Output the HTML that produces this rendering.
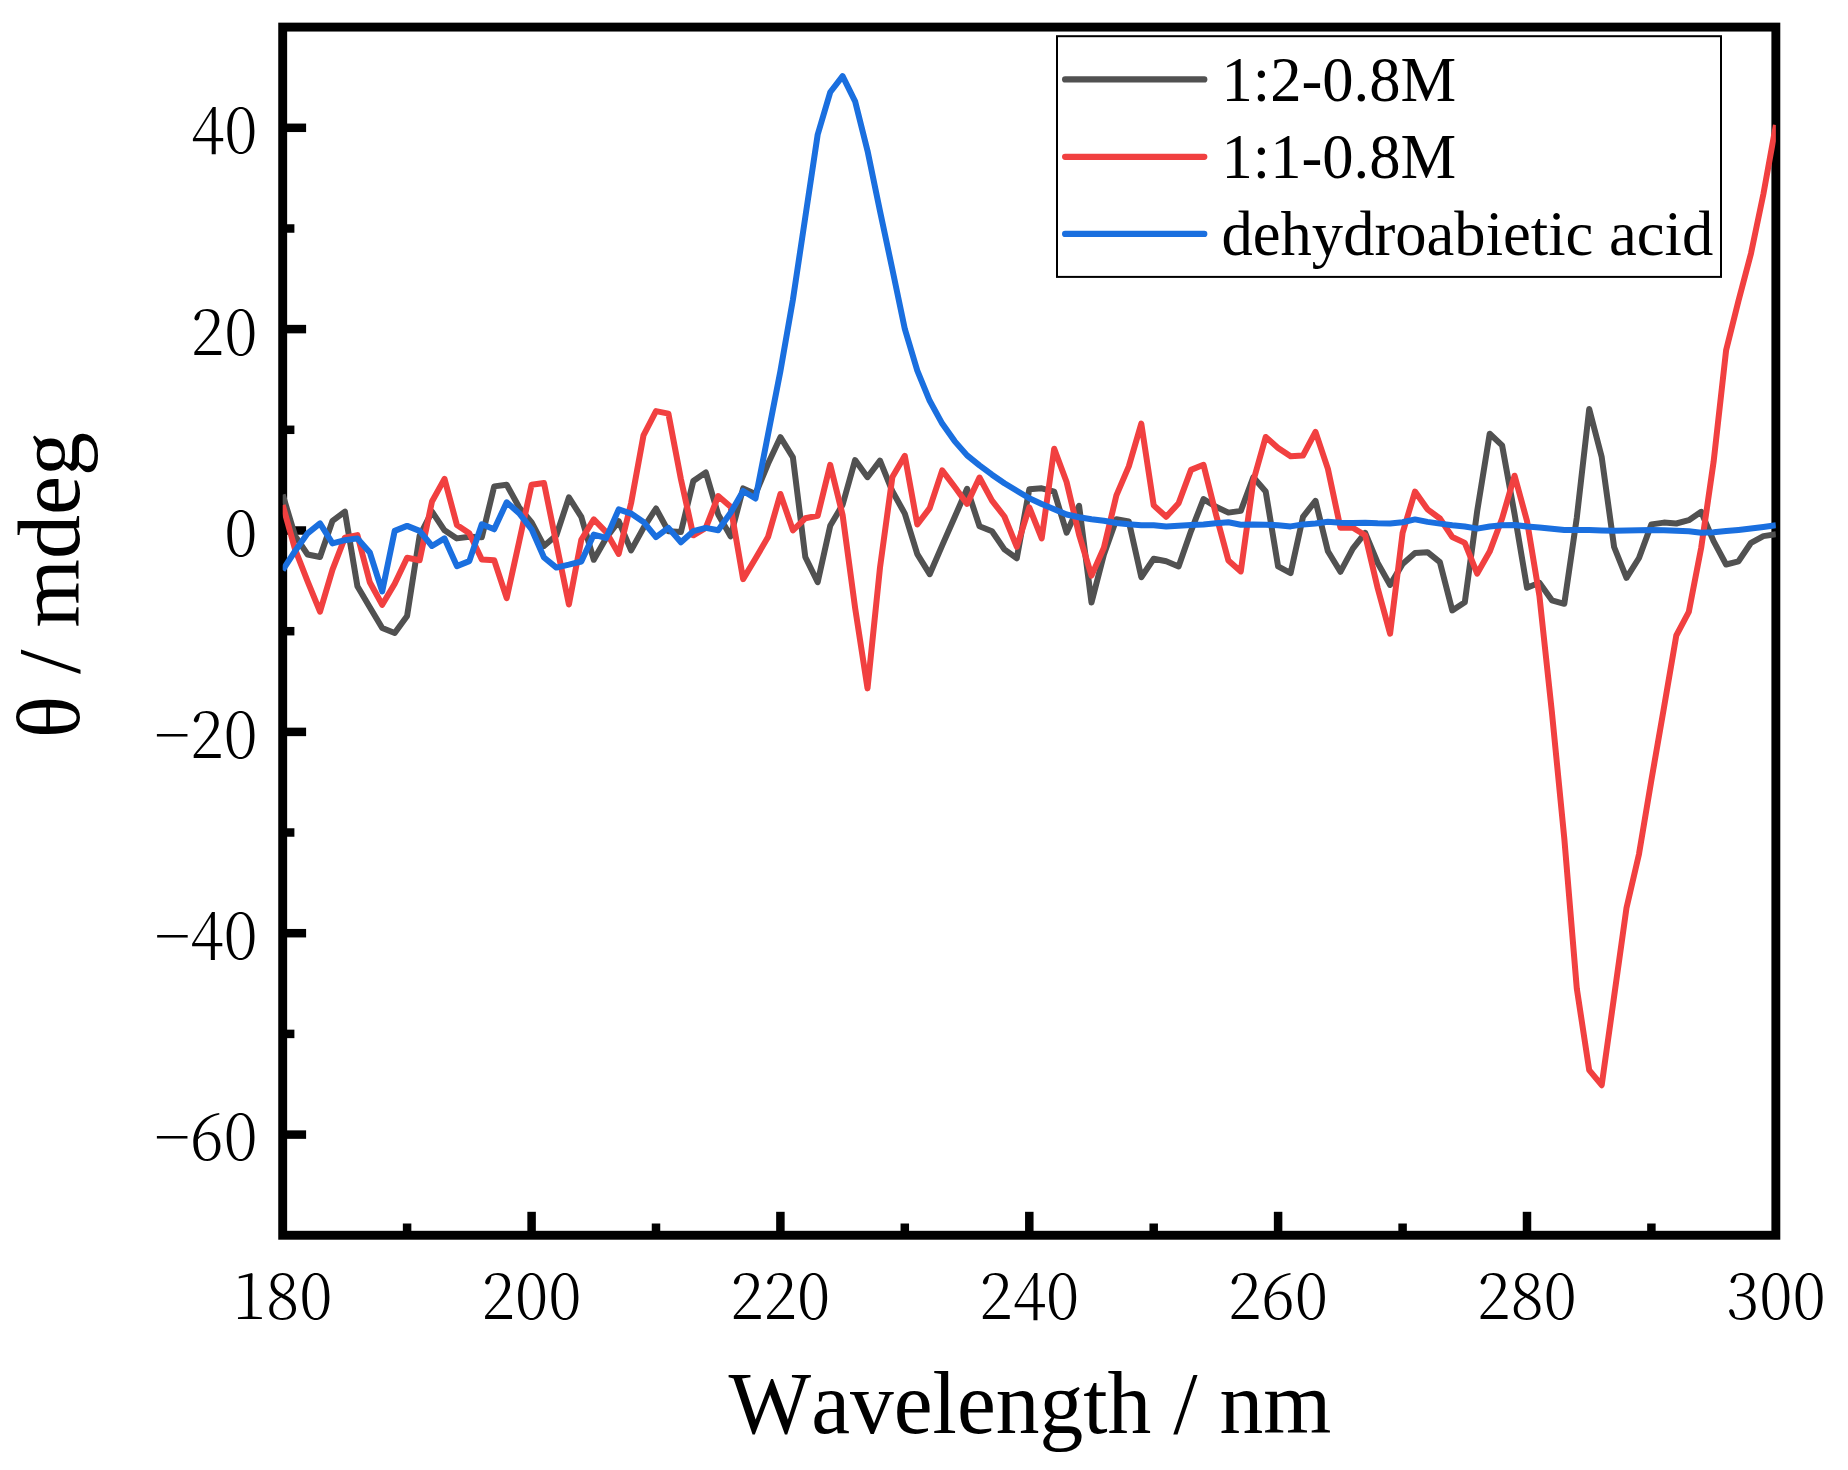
<!DOCTYPE html>
<html lang="en"><head><meta charset="utf-8"><title>CD spectra</title>
<style>
html,body{margin:0;padding:0;background:#fff;}
body{width:1848px;height:1470px;overflow:hidden;}
svg{display:block;}
text{font-kerning:none;}
.tk{font-family:"Noto Serif CJK SC","Liberation Serif",serif;font-weight:300;font-size:64px;fill:#000;}
.lg{font-family:"Liberation Serif",serif;font-size:63.8px;fill:#000;}
.xt{font-family:"Liberation Serif",serif;font-size:88.5px;fill:#000;}
.yt{font-family:"Liberation Serif",serif;font-weight:normal;font-size:88.5px;fill:#000;}
</style></head><body>
<svg width="1848" height="1470" viewBox="0 0 1848 1470">
<rect x="0" y="0" width="1848" height="1470" fill="#ffffff"/>
<defs><clipPath id="plot"><rect x="282.70" y="27.10" width="1493.15" height="1208.15"/></clipPath></defs>

<rect x="282.70" y="27.10" width="1493.15" height="1208.15" fill="none" stroke="#000" stroke-width="8.9"/>
<g stroke="#000" stroke-width="8.5" fill="none"><line x1="407.1" y1="1235.2" x2="407.1" y2="1223.5"/><line x1="531.6" y1="1235.2" x2="531.6" y2="1211.8"/><line x1="656.0" y1="1235.2" x2="656.0" y2="1223.5"/><line x1="780.4" y1="1235.2" x2="780.4" y2="1211.8"/><line x1="904.8" y1="1235.2" x2="904.8" y2="1223.5"/><line x1="1029.3" y1="1235.2" x2="1029.3" y2="1211.8"/><line x1="1153.7" y1="1235.2" x2="1153.7" y2="1223.5"/><line x1="1278.1" y1="1235.2" x2="1278.1" y2="1211.8"/><line x1="1402.6" y1="1235.2" x2="1402.6" y2="1223.5"/><line x1="1527.0" y1="1235.2" x2="1527.0" y2="1211.8"/><line x1="1651.4" y1="1235.2" x2="1651.4" y2="1223.5"/><line x1="282.7" y1="1134.6" x2="306.1" y2="1134.6"/><line x1="282.7" y1="1033.9" x2="294.4" y2="1033.9"/><line x1="282.7" y1="933.2" x2="306.1" y2="933.2"/><line x1="282.7" y1="832.5" x2="294.4" y2="832.5"/><line x1="282.7" y1="731.9" x2="306.1" y2="731.9"/><line x1="282.7" y1="631.2" x2="294.4" y2="631.2"/><line x1="282.7" y1="530.5" x2="306.1" y2="530.5"/><line x1="282.7" y1="429.8" x2="294.4" y2="429.8"/><line x1="282.7" y1="329.1" x2="306.1" y2="329.1"/><line x1="282.7" y1="228.5" x2="294.4" y2="228.5"/><line x1="282.7" y1="127.8" x2="306.1" y2="127.8"/></g>
<text class="tk" transform="translate(282.7 1319.2) scale(0.960 1)" text-anchor="middle">180</text>
<text class="tk" transform="translate(531.6 1319.2) scale(0.960 1)" text-anchor="middle">200</text>
<text class="tk" transform="translate(780.4 1319.2) scale(0.960 1)" text-anchor="middle">220</text>
<text class="tk" transform="translate(1029.3 1319.2) scale(0.960 1)" text-anchor="middle">240</text>
<text class="tk" transform="translate(1278.1 1319.2) scale(0.960 1)" text-anchor="middle">260</text>
<text class="tk" transform="translate(1527.0 1319.2) scale(0.960 1)" text-anchor="middle">280</text>
<text class="tk" transform="translate(1775.8 1319.2) scale(0.960 1)" text-anchor="middle">300</text>
<text class="tk" transform="translate(257.4 1160.2) scale(0.960 1)" text-anchor="end">−60</text>
<text class="tk" transform="translate(257.4 958.8) scale(0.960 1)" text-anchor="end">−40</text>
<text class="tk" transform="translate(257.4 757.5) scale(0.960 1)" text-anchor="end">−20</text>
<text class="tk" transform="translate(257.4 556.1) scale(0.960 1)" text-anchor="end">0</text>
<text class="tk" transform="translate(257.4 354.7) scale(0.960 1)" text-anchor="end">20</text>
<text class="tk" transform="translate(257.4 153.4) scale(0.960 1)" text-anchor="end">40</text>
<g clip-path="url(#plot)" fill="none" stroke-width="6" stroke-linejoin="round" stroke-linecap="butt">
<path stroke="#515151" d="M282.7 494.6 L295.1 535.9 L307.6 554.5 L320.0 557.0 L332.5 520.8 L344.9 511.6 L357.4 586.3 L369.8 607.3 L382.2 628.0 L394.7 633.0 L407.1 615.9 L419.6 535.9 L432.0 511.6 L444.5 530.3 L456.9 538.4 L469.3 536.7 L481.8 537.3 L494.2 486.4 L506.7 484.7 L519.1 507.3 L531.6 522.4 L544.0 546.0 L556.4 535.3 L568.9 497.4 L581.3 516.9 L593.8 559.8 L606.2 538.0 L618.7 521.1 L631.1 550.4 L643.5 527.9 L656.0 508.5 L668.4 531.2 L680.9 532.1 L693.3 481.0 L705.8 472.4 L718.2 514.4 L730.6 536.3 L743.1 488.4 L755.5 494.0 L768.0 463.8 L780.4 437.2 L792.9 457.3 L805.3 557.0 L817.7 582.2 L830.2 525.8 L842.6 504.8 L855.1 460.1 L867.5 477.2 L880.0 460.6 L892.4 491.3 L904.8 513.6 L917.3 554.1 L929.7 574.2 L942.2 545.4 L954.6 517.2 L967.1 488.8 L979.5 526.2 L992.0 531.2 L1004.4 549.4 L1016.8 558.3 L1029.3 489.2 L1041.7 488.3 L1054.2 491.7 L1066.6 532.7 L1079.1 505.8 L1091.5 602.5 L1103.9 554.5 L1116.4 519.3 L1128.8 521.4 L1141.3 577.2 L1153.7 558.8 L1166.2 561.3 L1178.6 566.4 L1191.0 531.1 L1203.5 499.1 L1215.9 506.7 L1228.4 512.6 L1240.8 510.9 L1253.3 477.3 L1265.7 491.5 L1278.1 566.4 L1290.6 573.1 L1303.0 516.8 L1315.5 500.8 L1327.9 551.2 L1340.4 571.8 L1352.8 548.7 L1365.2 532.8 L1377.7 563.0 L1390.1 584.9 L1402.6 563.9 L1415.0 553.0 L1427.5 552.2 L1439.9 562.2 L1452.3 610.4 L1464.8 602.3 L1477.2 511.0 L1489.7 433.7 L1502.1 445.4 L1514.6 514.2 L1527.0 587.7 L1539.4 582.7 L1551.9 600.3 L1564.3 603.8 L1576.8 517.7 L1589.2 409.0 L1601.7 457.1 L1614.1 547.0 L1626.5 577.8 L1639.0 558.0 L1651.4 524.4 L1663.9 522.6 L1676.3 523.5 L1688.8 520.2 L1701.2 511.8 L1713.6 541.2 L1726.1 564.5 L1738.5 561.3 L1751.0 542.8 L1763.4 536.1 L1775.9 534.3"/>
<path stroke="#F14040" d="M282.7 505.1 L295.1 549.4 L307.6 581.3 L320.0 611.6 L332.5 569.6 L344.9 537.7 L357.4 535.1 L369.8 582.2 L382.2 604.8 L394.7 583.7 L407.1 557.8 L419.6 560.3 L432.0 501.5 L444.5 478.9 L456.9 525.0 L469.3 533.3 L481.8 559.5 L494.2 560.3 L506.7 598.1 L519.1 541.8 L531.6 484.7 L544.0 483.0 L556.4 543.9 L568.9 604.5 L581.3 539.7 L593.8 519.4 L606.2 532.1 L618.7 553.9 L631.1 503.1 L643.5 435.4 L656.0 411.1 L668.4 413.6 L680.9 479.1 L693.3 535.3 L705.8 527.9 L718.2 496.1 L730.6 506.8 L743.1 579.1 L755.5 558.5 L768.0 537.1 L780.4 494.0 L792.9 530.3 L805.3 518.3 L817.7 515.8 L830.2 464.8 L842.6 515.0 L855.1 607.8 L867.5 688.4 L880.0 567.6 L892.4 476.9 L904.8 455.8 L917.3 524.5 L929.7 508.1 L942.2 470.4 L954.6 486.8 L967.1 503.9 L979.5 477.5 L992.0 500.6 L1004.4 516.5 L1016.8 546.8 L1029.3 507.3 L1041.7 538.4 L1054.2 448.7 L1066.6 482.0 L1079.1 534.8 L1091.5 575.6 L1103.9 547.8 L1116.4 495.4 L1128.8 466.4 L1141.3 423.6 L1153.7 505.4 L1166.2 516.8 L1178.6 503.3 L1191.0 469.9 L1203.5 464.8 L1215.9 514.2 L1228.4 560.5 L1240.8 571.4 L1253.3 481.0 L1265.7 437.0 L1278.1 447.9 L1290.6 456.3 L1303.0 455.5 L1315.5 431.9 L1327.9 468.9 L1340.4 527.7 L1352.8 527.7 L1365.2 535.3 L1377.7 588.3 L1390.1 633.6 L1402.6 532.8 L1415.0 491.6 L1427.5 509.3 L1439.9 518.5 L1452.3 537.0 L1464.8 542.9 L1477.2 573.6 L1489.7 551.6 L1502.1 518.5 L1514.6 475.7 L1527.0 521.0 L1539.4 595.8 L1551.9 712.2 L1564.3 838.4 L1576.8 988.5 L1589.2 1070.1 L1601.7 1085.2 L1614.1 996.5 L1626.5 907.9 L1639.0 854.1 L1651.4 780.0 L1663.9 708.1 L1676.3 635.5 L1688.8 611.9 L1701.2 547.8 L1713.6 461.8 L1726.1 350.3 L1738.5 300.7 L1751.0 253.4 L1763.4 194.0 L1775.9 125.1"/>
<path stroke="#1A6FDF" d="M282.7 570.1 L295.1 551.0 L307.6 533.3 L320.0 523.4 L332.5 543.4 L344.9 540.2 L357.4 538.4 L369.8 552.5 L382.2 591.4 L394.7 530.9 L407.1 525.9 L419.6 530.9 L432.0 546.0 L444.5 538.4 L456.9 566.1 L469.3 561.1 L481.8 524.3 L494.2 529.3 L506.7 502.3 L519.1 513.2 L531.6 529.3 L544.0 557.5 L556.4 567.6 L568.9 564.7 L581.3 561.5 L593.8 534.6 L606.2 538.0 L618.7 509.4 L631.1 513.6 L643.5 521.9 L656.0 537.1 L668.4 527.9 L680.9 542.2 L693.3 531.2 L705.8 527.9 L718.2 530.3 L730.6 512.8 L743.1 491.0 L755.5 498.5 L768.0 434.6 L780.4 371.2 L792.9 299.7 L805.3 217.1 L817.7 134.5 L830.2 92.3 L842.6 76.1 L855.1 101.3 L867.5 150.7 L880.0 211.1 L892.4 269.5 L904.8 328.9 L917.3 370.6 L929.7 400.8 L942.2 423.6 L954.6 441.1 L967.1 455.4 L979.5 465.4 L992.0 474.7 L1004.4 483.2 L1016.8 490.7 L1029.3 498.3 L1041.7 503.9 L1054.2 509.2 L1066.6 514.5 L1079.1 517.2 L1091.5 519.2 L1103.9 520.7 L1116.4 523.0 L1128.8 524.3 L1141.3 525.2 L1153.7 525.2 L1166.2 526.4 L1178.6 525.7 L1191.0 525.0 L1203.5 524.4 L1215.9 523.2 L1228.4 522.3 L1240.8 524.7 L1253.3 524.4 L1265.7 524.7 L1278.1 525.2 L1290.6 526.4 L1303.0 524.4 L1315.5 523.5 L1327.9 521.8 L1340.4 522.7 L1352.8 523.0 L1365.2 522.7 L1377.7 523.3 L1390.1 523.6 L1402.6 522.2 L1415.0 519.4 L1427.5 521.9 L1439.9 523.6 L1452.3 525.3 L1464.8 526.5 L1477.2 528.6 L1489.7 526.5 L1502.1 525.3 L1514.6 525.0 L1527.0 526.5 L1539.4 527.5 L1551.9 528.8 L1564.3 529.9 L1576.8 529.9 L1589.2 530.1 L1601.7 530.5 L1614.1 530.7 L1626.5 530.5 L1639.0 530.3 L1651.4 529.9 L1663.9 530.3 L1676.3 530.7 L1688.8 531.3 L1701.2 532.7 L1713.6 532.2 L1726.1 531.1 L1738.5 529.9 L1751.0 528.5 L1763.4 526.9 L1775.9 525.3"/>
</g>
<rect x="1057" y="36.2" width="664" height="240.7" fill="#fff" stroke="#000" stroke-width="2"/>
<g stroke-width="6.2" stroke-linecap="round" fill="none"><line x1="1065.1" y1="79.4" x2="1204.3" y2="79.4" stroke="#515151"/><line x1="1065.1" y1="156.8" x2="1204.3" y2="156.8" stroke="#F14040"/><line x1="1065.1" y1="233.9" x2="1204.3" y2="233.9" stroke="#1A6FDF"/></g>
<text class="lg" transform="translate(1221.5 100.9) scale(0.981 1)">1:2-0.8M</text>
<text class="lg" transform="translate(1221.5 178.2) scale(0.981 1)">1:1-0.8M</text>
<text class="lg" transform="translate(1221.5 254.7) scale(0.981 1)">dehydroabietic acid</text>
<text class="xt" transform="translate(1029.9 1433) scale(0.989 1)" text-anchor="middle">Wavelength / nm</text>
<text class="yt" transform="translate(79.2 585.0) rotate(-90) scale(0.995 1)" text-anchor="middle">θ / mdeg</text>
</svg></body></html>
